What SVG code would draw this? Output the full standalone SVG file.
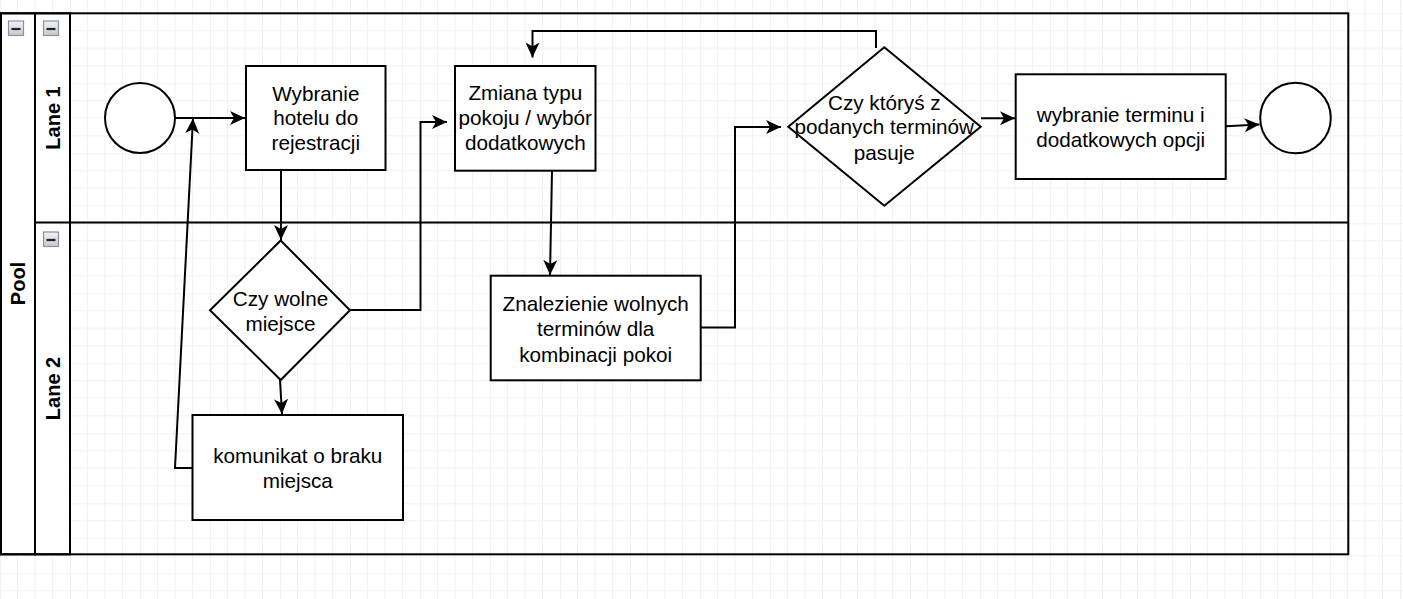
<svg xmlns="http://www.w3.org/2000/svg" width="1403" height="599" viewBox="0 0 1403 599">
  <defs>
    <pattern id="grid" patternUnits="userSpaceOnUse" x="0" y="13.3" width="70" height="70">
      <path d="M17.5,0V70M35,0V70M52.5,0V70M0,17.5H70M0,35H70M0,52.5H70" stroke="#f1f1f1" stroke-width="1" fill="none"/>
      <path d="M0,0V70M0,0H70" stroke="#e3e3e3" stroke-width="1" fill="none"/>
    </pattern>
    <linearGradient id="iconGrad" x1="0" y1="0" x2="0" y2="1">
      <stop offset="0" stop-color="#f2f3f5"/>
      <stop offset="1" stop-color="#c3c8d0"/>
    </linearGradient>
    <marker id="arrow" markerUnits="userSpaceOnUse" markerWidth="16" markerHeight="16" viewBox="0 0 16 16" refX="15" refY="8" orient="auto">
      <path d="M0,1 L15,8 L0,15 L4,8 Z" fill="#000"/>
    </marker>
  </defs>
  <style>
    .shape { fill: #fff; stroke: #000; stroke-width: 2; }
    .frame { fill: none; stroke: #000; stroke-width: 2; }
    .hdr { fill: #fff; stroke: #000; stroke-width: 2; }
    .edge { fill: none; stroke: #000; stroke-width: 2; marker-end: url(#arrow); }
    .lbl { font-family: "Liberation Sans", Arial, sans-serif; font-size: 20.7px; fill: #000; text-anchor: middle; }
    .hlbl { font-family: "Liberation Sans", Arial, sans-serif; font-size: 20px; font-weight: bold; fill: #000; text-anchor: middle; }
    .icon { fill: url(#iconGrad); stroke: #8a929c; stroke-width: 1.2; }
    .minus { stroke: #222; stroke-width: 2.2; }
  </style>

  <rect x="0" y="0" width="1403" height="599" fill="#fff"/>
  <rect x="0" y="0" width="1403" height="599" fill="url(#grid)"/>

  <g id="pool">
    <rect class="hdr" x="1" y="13.3" width="34" height="541"/>
    <rect class="hdr" x="35" y="13.3" width="35" height="541"/>
    <rect class="frame" x="1" y="13.3" width="1347.3" height="541"/>
    <line x1="35" y1="222.5" x2="1348.3" y2="222.5" stroke="#000" stroke-width="2"/>
    <rect class="icon" x="8.5" y="21" width="15" height="14.5"/>
    <line class="minus" x1="11.5" y1="29" x2="20.5" y2="29"/>
    <text class="hlbl" transform="translate(18,283.5) rotate(-90)" y="7">Pool</text>
  </g>
  <g id="lane1">
    <rect class="icon" x="43.5" y="21" width="15" height="14.5"/>
    <line class="minus" x1="46.5" y1="29" x2="55.5" y2="29"/>
    <text class="hlbl" transform="translate(53,118) rotate(-90)" y="7">Lane 1</text>
  </g>
  <g id="lane2">
    <rect class="icon" x="43.5" y="232" width="15" height="14.5"/>
    <line class="minus" x1="46.5" y1="240" x2="55.5" y2="240"/>
    <text class="hlbl" transform="translate(53,388.5) rotate(-90)" y="7">Lane 2</text>
  </g>

  <g id="connectors">
    <path class="edge" d="M175,118 L245,118"/>
    <path class="edge" d="M281,170 L281,240"/>
    <path class="edge" d="M280,380 L282,414"/>
    <path class="edge" d="M193,468 L175,468 L193,118.5"/>
    <path class="edge" d="M350,310 L420.5,310 L420.5,122 L447,122"/>
    <path class="edge" d="M552,171 L550,275"/>
    <path class="edge" d="M701,327.5 L735,327.5 L735,127 L781,127"/>
    <path class="edge" d="M876,48 L876,31 L532.5,31 L532.5,57.5"/>
    <path class="edge" d="M981,118.3 L1015,118.3"/>
    <path class="edge" d="M1226,126.3 L1259.5,124.5"/>
  </g>

  <g id="start">
    <circle class="shape" cx="140" cy="118" r="35"/>
  </g>
  <g id="wybranie-hotelu">
    <rect class="shape" x="246" y="66" width="139.5" height="104"/>
    <text class="lbl" x="315.8" y="100.5">Wybranie</text>
    <text class="lbl" x="315.8" y="125">hotelu do</text>
    <text class="lbl" x="315.8" y="150">rejestracji</text>
  </g>
  <g id="czy-wolne">
    <polygon class="shape" points="280.7,240.5 350,310.3 280.7,380 210,310.3"/>
    <text class="lbl" x="280.5" y="305.5">Czy wolne</text>
    <text class="lbl" x="280.5" y="331">miejsce</text>
  </g>
  <g id="komunikat">
    <rect class="shape" x="192.5" y="415" width="210.5" height="105"/>
    <text class="lbl" x="297.8" y="462.5">komunikat o braku</text>
    <text class="lbl" x="297.8" y="488">miejsca</text>
  </g>
  <g id="zmiana-typu">
    <rect class="shape" x="455" y="66" width="140.5" height="104.7"/>
    <text class="lbl" x="525.3" y="100">Zmiana typu</text>
    <text class="lbl" x="525.3" y="125">pokoju / wybór</text>
    <text class="lbl" x="525.3" y="150">dodatkowych</text>
  </g>
  <g id="znalezienie">
    <rect class="shape" x="490.7" y="275.7" width="210" height="104.6"/>
    <text class="lbl" x="595.7" y="310.7">Znalezienie wolnych</text>
    <text class="lbl" x="595.7" y="336">terminów dla</text>
    <text class="lbl" x="595.7" y="361.5">kombinacji pokoi</text>
  </g>
  <g id="czy-ktorys">
    <polygon class="shape" points="884.3,47.3 980.7,126.7 884.3,205.7 788.3,126.7"/>
    <text class="lbl" x="884.3" y="109.5">Czy któryś z</text>
    <text class="lbl" x="884.3" y="134.3">podanych terminów</text>
    <text class="lbl" x="884.3" y="159.5">pasuje</text>
  </g>
  <g id="wybranie-terminu">
    <rect class="shape" x="1015.7" y="74.3" width="210" height="104.7"/>
    <text class="lbl" x="1120.7" y="122">wybranie terminu i</text>
    <text class="lbl" x="1120.7" y="147.3">dodatkowych opcji</text>
  </g>
  <g id="end">
    <circle class="shape" cx="1295.5" cy="118" r="35.3"/>
  </g>
</svg>
